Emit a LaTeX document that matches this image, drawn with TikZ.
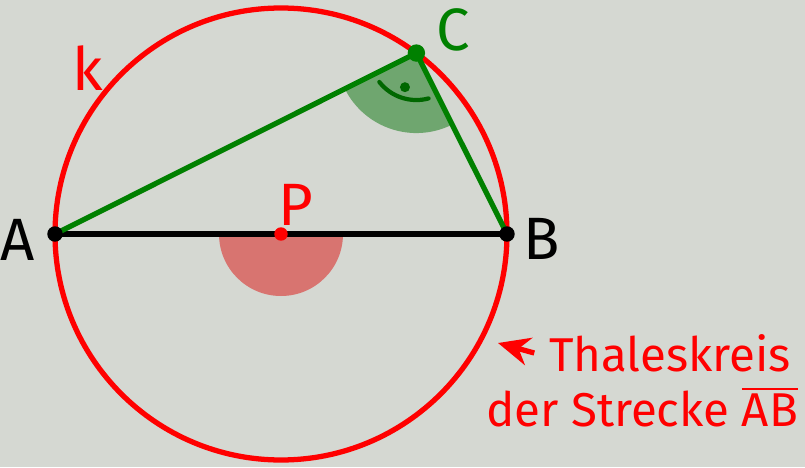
\documentclass[tikz,border=0pt]{standalone}
\usepackage{fontspec}
\setsansfont{Fira Sans}
\usetikzlibrary{arrows.meta}
\definecolor{bg}{HTML}{D5D8D2}
\definecolor{kred}{HTML}{FF0000}
\definecolor{kgreen}{HTML}{008000}
\definecolor{sectgreen}{HTML}{6FA66F}
\definecolor{sectred}{HTML}{D87470}
\begin{document}
\begin{tikzpicture}[declare function={r=2.26;},
    lbl/.style={font=\sffamily\fontsize{17}{20}\selectfont, inner sep=0pt},
    txt/.style={font=\sffamily\fontsize{13.5}{16}\selectfont, inner sep=0pt, kred}]
        \fill[bg] (0,0) rectangle (8.05,4.67);
        \useasboundingbox (0,0) rectangle (8.05,4.67);
        \coordinate (P) at (2.81,2.33);
        \coordinate (A) at (2.81-r,2.33);
        \coordinate (B) at (2.81+r,2.33);
        \coordinate (C) at ({2.81+r*cos(53.2)},{2.33+r*sin(53.2)});
        \coordinate (tip) at (4.98,1.24);
        % shaded angles
        \fill[sectred] (P) -- ++(180:0.62) arc[start angle=180, end angle=360, radius=0.62] -- cycle;
        \fill[sectgreen] (C) -- ++(206.7:0.8) arc[start angle=206.7, end angle=296.3, radius=0.8] -- cycle;
        \draw[kred, line width=1.5pt] (P) circle (r);
        \draw[black, line width=1.5pt] (A) -- (B);
        \draw[kgreen, line width=1.5pt] (A) -- (C) -- (B);
        % right angle mark
        \draw[kgreen!80!black, line width=1.2pt, line cap=round] ([shift={(218:0.47)}]C) arc[start angle=218, end angle=285, radius=0.47];
        \fill[kgreen!80!black] ([shift={(251.5:0.36)}]C) circle (0.05);
        \filldraw[black] (A) circle (0.07);
        \filldraw[black] (B) circle (0.07);
        \filldraw[kred] (P) circle (0.06);
        \filldraw[kgreen] (C) circle (0.08);
        \node[lbl] (lA) at (0.18,2.27) {A};
        \node[lbl] (lB) at (5.42,2.28) {B};
        \node[lbl, kgreen] (lC) at (4.53,4.37) {C};
        \node[lbl, kred] (lP) at (2.96,2.62) {P};
        \node[lbl, kred] (lk) at (0.88,3.99) {k};
        \node[txt] (tha) at (6.70,1.14) {Thaleskreis};
        \node[txt] (der) at (6.42,0.60) {der Strecke $\overline{\mathsf{AB}}$};
        \draw[kred, line width=1.5pt, -{Stealth[length=9pt, width=8pt]}] ([xshift=-4pt]tha.west) -- (tip);
    \end{tikzpicture}
\end{document}
